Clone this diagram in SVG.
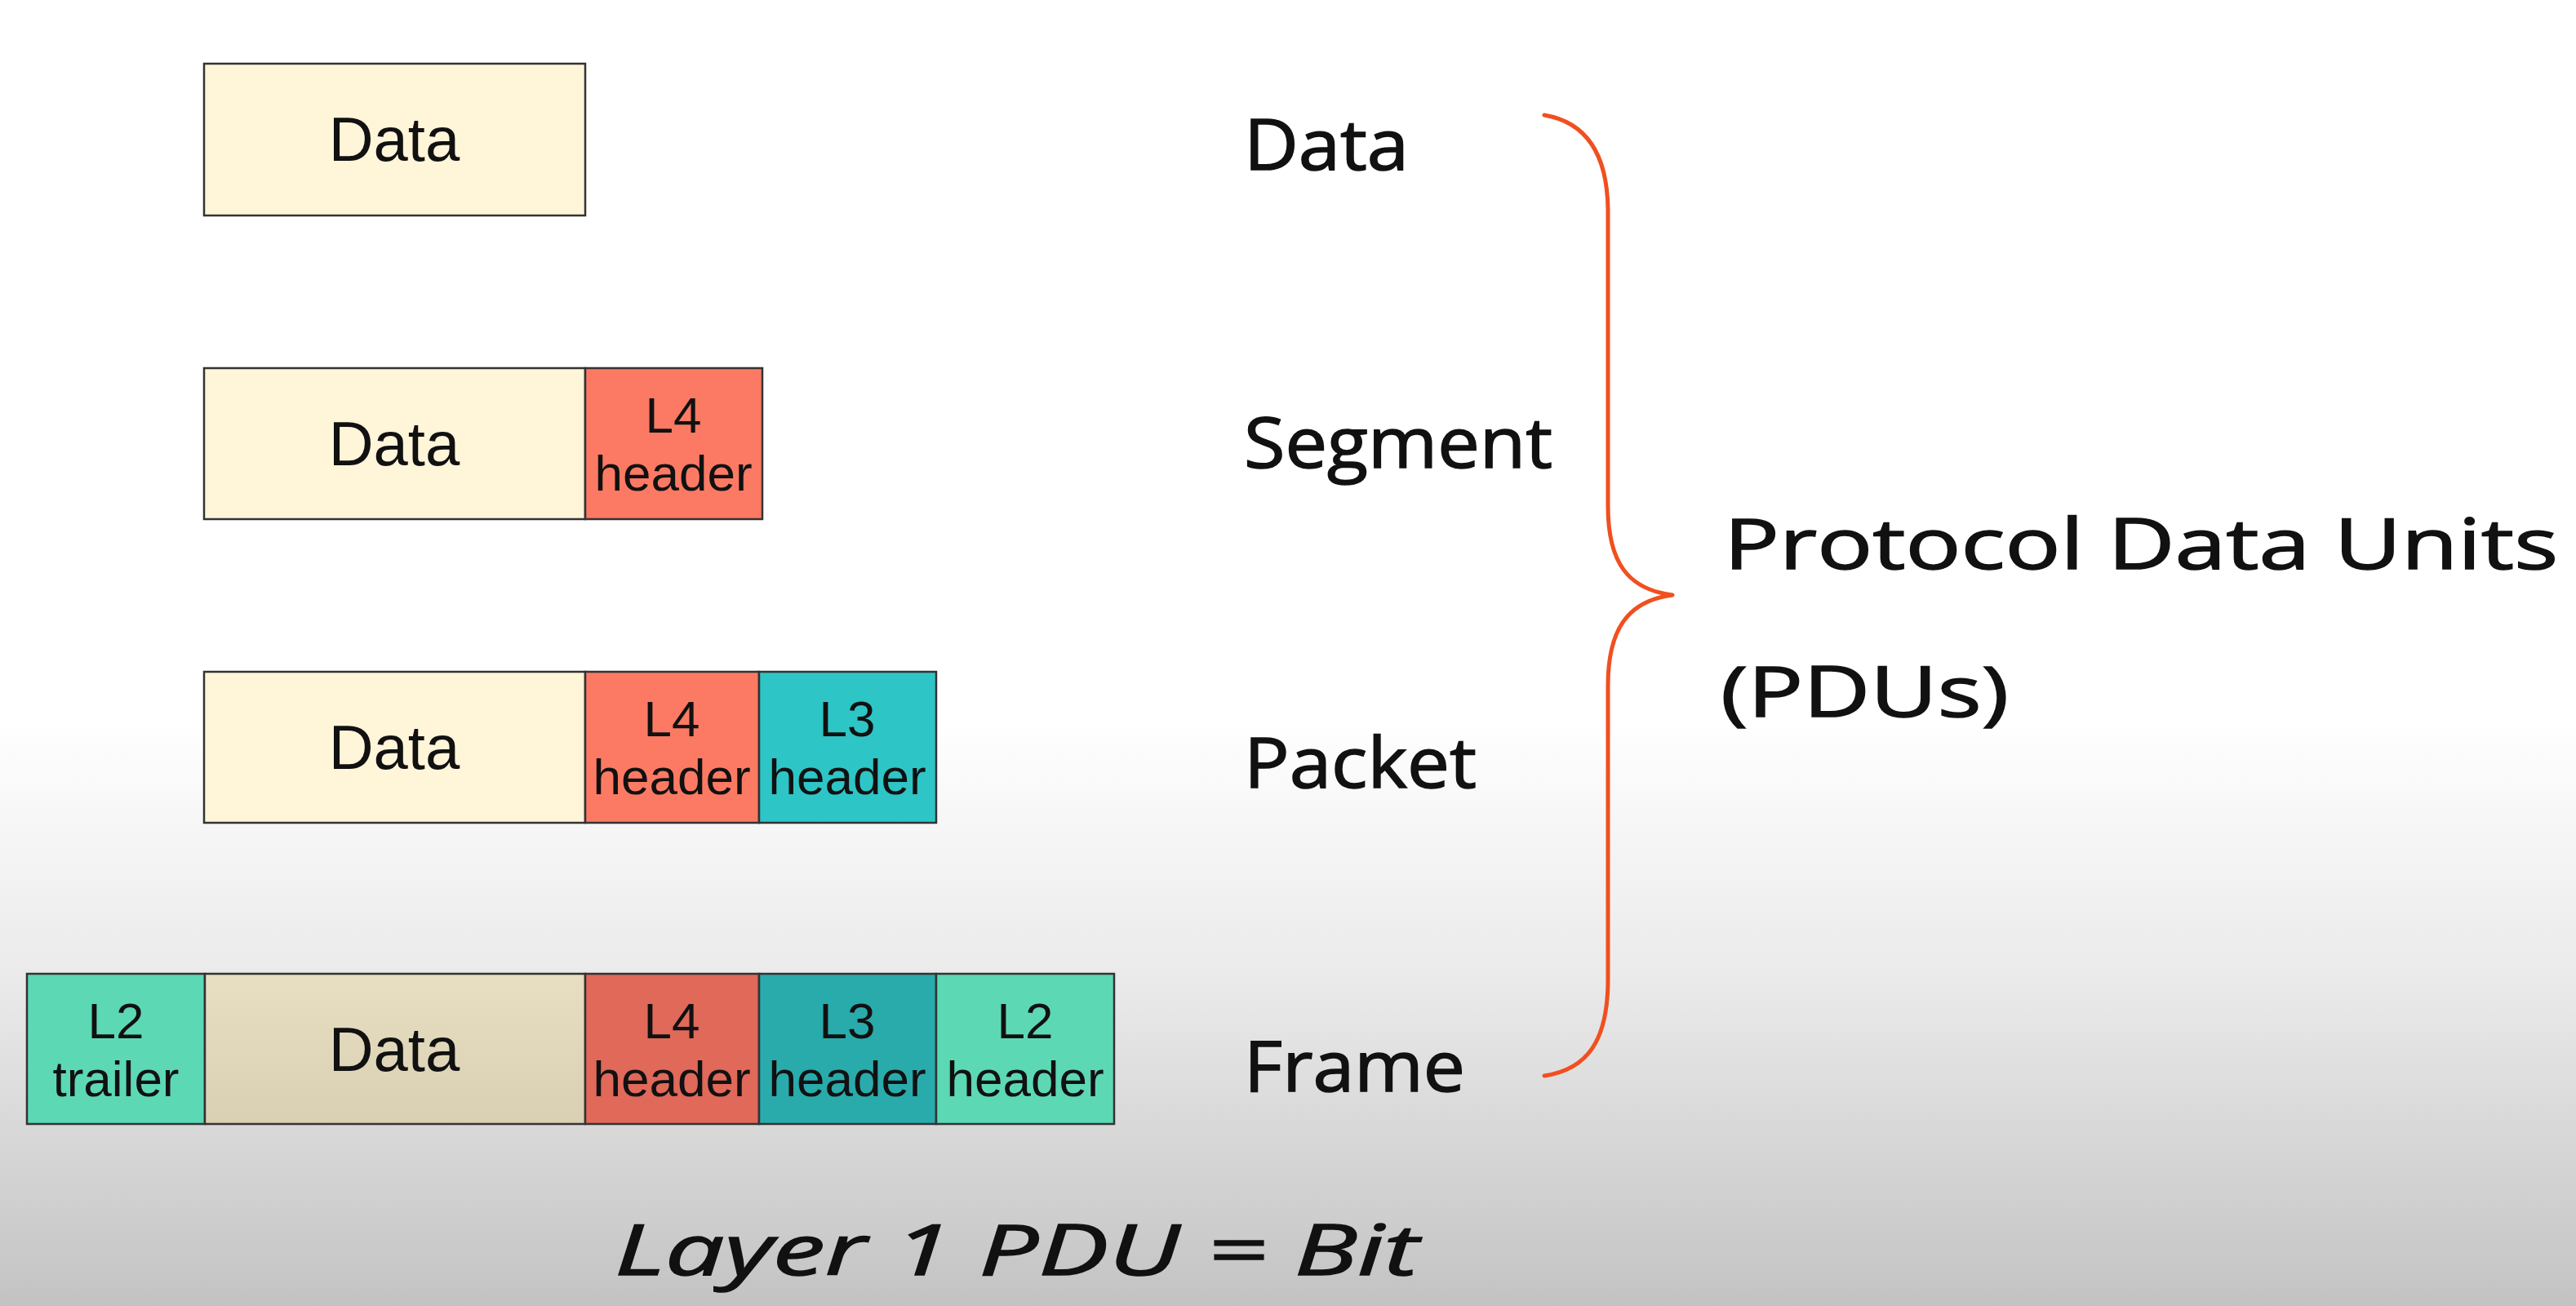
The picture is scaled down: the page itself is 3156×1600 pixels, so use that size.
<svg xmlns="http://www.w3.org/2000/svg" width="3156" height="1600" viewBox="0 0 3156 1600">
<defs>
<linearGradient id="bg" x1="0" y1="0" x2="0" y2="1">
<stop offset="0" stop-color="#ffffff"/>
<stop offset="0.55" stop-color="#ffffff"/>
<stop offset="0.75" stop-color="#eaeaea"/>
<stop offset="1" stop-color="#c3c3c3"/>
</linearGradient>
<linearGradient id="fdata" x1="0" y1="0" x2="0" y2="1">
<stop offset="0" stop-color="#e8dfc2"/>
<stop offset="1" stop-color="#d9d0b3"/>
</linearGradient>
<style>
.cell{stroke:#333;stroke-width:2.5}
.data{fill:#fff5d9}
.l4{fill:#fc7a63}
.l3{fill:#2ec5c6}
.fl2{fill:#5dd8b5}
.fdata{fill:url(#fdata)}
.fl4{fill:#e0695a}
.fl3{fill:#29abac}
.t{font-family:"Liberation Sans",Arial,sans-serif;fill:#111;text-anchor:middle}
.big{font-size:76px}
.sm{font-size:62px}
.hand{font-family:"Open Sans","DejaVu Sans",sans-serif;fill:#111;font-size:86px;stroke:#111;stroke-width:1.5}
.brace{fill:none;stroke:#f0501f;stroke-width:5;stroke-linecap:round;stroke-linejoin:round}
</style>
</defs>
<rect x="0" y="0" width="3156" height="1600" fill="url(#bg)"/>

<g id="pdu-data">
<rect class="cell data" x="250" y="78" width="467" height="186"/>
<text class="t big" x="483" y="197">Data</text>
</g>

<g id="pdu-segment">
<rect class="cell data" x="250" y="451" width="467" height="185"/>
<text class="t big" x="483" y="570">Data</text>
<rect class="cell l4" x="717" y="451" width="217" height="185"/>
<text class="t sm" x="825" y="530">L4</text>
<text class="t sm" x="825" y="601">header</text>
</g>

<g id="pdu-packet">
<rect class="cell data" x="250" y="823" width="467" height="185"/>
<text class="t big" x="483" y="942">Data</text>
<rect class="cell l4" x="717" y="823" width="213" height="185"/>
<text class="t sm" x="823" y="902">L4</text>
<text class="t sm" x="823" y="973">header</text>
<rect class="cell l3" x="930" y="823" width="217" height="185"/>
<text class="t sm" x="1038" y="902">L3</text>
<text class="t sm" x="1038" y="973">header</text>
</g>

<g id="pdu-frame">
<rect class="cell fl2" x="33" y="1193" width="218" height="184"/>
<text class="t sm" x="142" y="1272">L2</text>
<text class="t sm" x="142" y="1343">trailer</text>
<rect class="cell fdata" x="251" y="1193" width="466" height="184"/>
<text class="t big" x="483" y="1312">Data</text>
<rect class="cell fl4" x="717" y="1193" width="213" height="184"/>
<text class="t sm" x="823" y="1272">L4</text>
<text class="t sm" x="823" y="1343">header</text>
<rect class="cell fl3" x="930" y="1193" width="217" height="184"/>
<text class="t sm" x="1038" y="1272">L3</text>
<text class="t sm" x="1038" y="1343">header</text>
<rect class="cell fl2" x="1147" y="1193" width="218" height="184"/>
<text class="t sm" x="1256" y="1272">L2</text>
<text class="t sm" x="1256" y="1343">header</text>
</g>

<g id="labels">
<text class="hand" x="1524" y="208" textLength="202" lengthAdjust="spacingAndGlyphs">Data</text>
<text class="hand" x="1524" y="573" textLength="378" lengthAdjust="spacingAndGlyphs">Segment</text>
<text class="hand" x="1524" y="965" textLength="285" lengthAdjust="spacingAndGlyphs">Packet</text>
<text class="hand" x="1524" y="1337" textLength="271" lengthAdjust="spacingAndGlyphs">Frame</text>
</g>

<g id="connectors">
<path class="brace" d="M1892,141 C1945,150 1970,190 1970,260 L1970,620 C1970,690 1995,722 2049,729 C1995,736 1970,770 1970,840 L1970,1200 C1970,1275 1945,1310 1892,1318"/>
</g>

<g id="pdus-title">
<text class="hand" x="2112" y="697" font-size="104" textLength="1022" lengthAdjust="spacingAndGlyphs">Protocol Data Units</text>
<text class="hand" x="2108" y="878" font-size="104" textLength="353" lengthAdjust="spacingAndGlyphs">(PDUs)</text>
</g>

<g id="layer1">
<text class="hand" x="753" y="1562" font-size="104" font-style="italic" textLength="985" lengthAdjust="spacingAndGlyphs">Layer 1 PDU = Bit</text>
</g>
</svg>
